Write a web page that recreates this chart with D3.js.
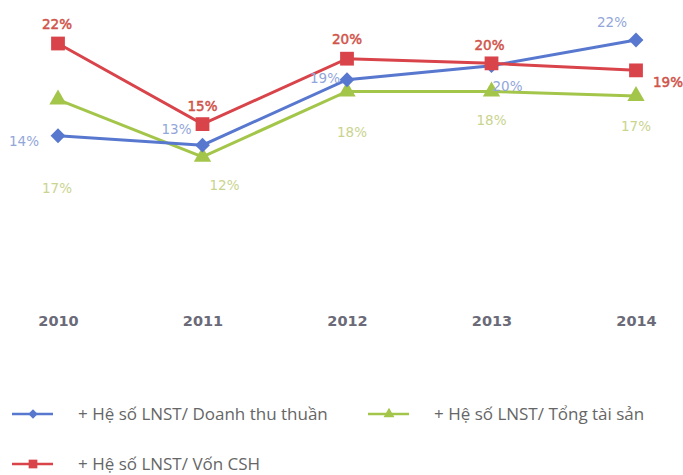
<!DOCTYPE html>
<html><head><meta charset="utf-8">
<script src="https://cdn.jsdelivr.net/npm/d3@7/dist/d3.min.js"></script>
<style>body{margin:0;background:#fff}svg{display:block}</style>
</head><body><svg id="c" width="683" height="475"></svg>
<script>
const years = ["2010","2011","2012","2013","2014"];
const seriesNames = ["+ Hệ số LNST/ Doanh thu thuần","+ Hệ số LNST/ Tổng tài sản","+ Hệ số LNST/ Vốn CSH"];
const blueValues = [13.8,13.0,18.6,19.8,22.0];
const greenValues = [16.9,12.0,17.6,17.6,17.2];
const redValues = [21.7,14.8,20.4,20.0,19.4];
const blueLabels = ["14%","13%","19%","20%","22%"];
const greenLabels = ["17%","12%","18%","18%","17%"];
const redLabels = ["22%","15%","20%","20%","19%"];

const svg = d3.select("#c");
const x = d3.scalePoint().domain(years).range([58,636]);
const y = d3.scaleLinear().domain([0,22]).range([297,40]);

const series = [
  {name:seriesNames[0], values:blueValues, labels:blueLabels, color:"#5878cf", lab:"#92a6da", marker:"diamond",
   off:[[-34,5],[-26,-16],[-22,-1],[16,21],[-24,-18]]},
  {name:seriesNames[1], values:greenValues, labels:greenLabels, color:"#a3c64a", lab:"#c9d48e", marker:"triangle",
   off:[[-1,89],[22,28],[5,41],[0,29],[0,30]]},
  {name:seriesNames[2], values:redValues, labels:redLabels, color:"#d9434a", lab:"#d0544a", marker:"square",
   off:[[-1,-19],[0,-18],[0,-19],[-2,-18],[32,12]]}
];

const line = d3.line().x((d,i)=>x(years[i])).y(d=>y(d));
const diamond = {draw(ctx,size){const r=Math.sqrt(size/2);ctx.moveTo(0,-r);ctx.lineTo(r,0);ctx.lineTo(0,r);ctx.lineTo(-r,0);ctx.closePath();}};
const sym = {diamond:diamond, triangle:d3.symbolTriangle, square:d3.symbolSquare};
const sz = {diamond:110, triangle:130, square:190};

// x axis labels
const ax = d3.axisBottom(x).tickSize(0).tickPadding(0);
const g = svg.append("g").attr("transform","translate(0,314)").call(ax);
g.select(".domain").remove();
g.selectAll("text").attr("font-family","DejaVu Sans").attr("font-weight","bold")
  .attr("font-size","14.5px").attr("fill","#6a6a78").attr("dy","0.35em").attr("y",7);

[1,0,2].forEach(si=>{
  const s = series[si];
  svg.append("path").attr("d",line(s.values)).attr("fill","none")
    .attr("stroke",s.color).attr("stroke-width",3);
});
[1,0,2].forEach(si=>{
  const s = series[si];
  svg.selectAll(null).data(s.values).enter().append("path")
    .attr("transform",(d,i)=>`translate(${x(years[i])},${y(d)})`)
    .attr("d",d3.symbol().type(sym[s.marker]).size(sz[s.marker]))
    .attr("fill",s.color);
});
series.forEach(s=>{
  svg.selectAll(null).data(s.values).enter().append("text")
    .attr("x",(d,i)=>x(years[i])+s.off[i][0])
    .attr("y",(d,i)=>y(d)+s.off[i][1])
    .attr("dy","0.35em").attr("text-anchor","middle")
    .attr("font-family","DejaVu Sans").attr("font-size","13.5px")
    .attr("stroke", s.marker==="square"? s.lab : "none").attr("stroke-width",0.5)
    .attr("fill",s.lab).text((d,i)=>s.labels[i]);
});

// legend
const leg = [
  {s:series[0], x:12, y:414},
  {s:series[1], x:368, y:414},
  {s:series[2], x:12, y:464}
];
leg.forEach(l=>{
  const gg = svg.append("g").attr("transform",`translate(${l.x},${l.y})`);
  gg.append("line").attr("x1",0).attr("x2",41).attr("stroke",l.s.color).attr("stroke-width",2.5);
  gg.append("path").attr("transform","translate(21,0)")
    .attr("d",d3.symbol().type(sym[l.s.marker]).size(sz[l.s.marker]*0.4)).attr("fill",l.s.color);
  gg.append("text").attr("x",66).attr("dy","0.35em").attr("font-family","Open Sans")
    .attr("font-size","17px").attr("fill","#666").text(l.s.name);
});
</script></body></html>
